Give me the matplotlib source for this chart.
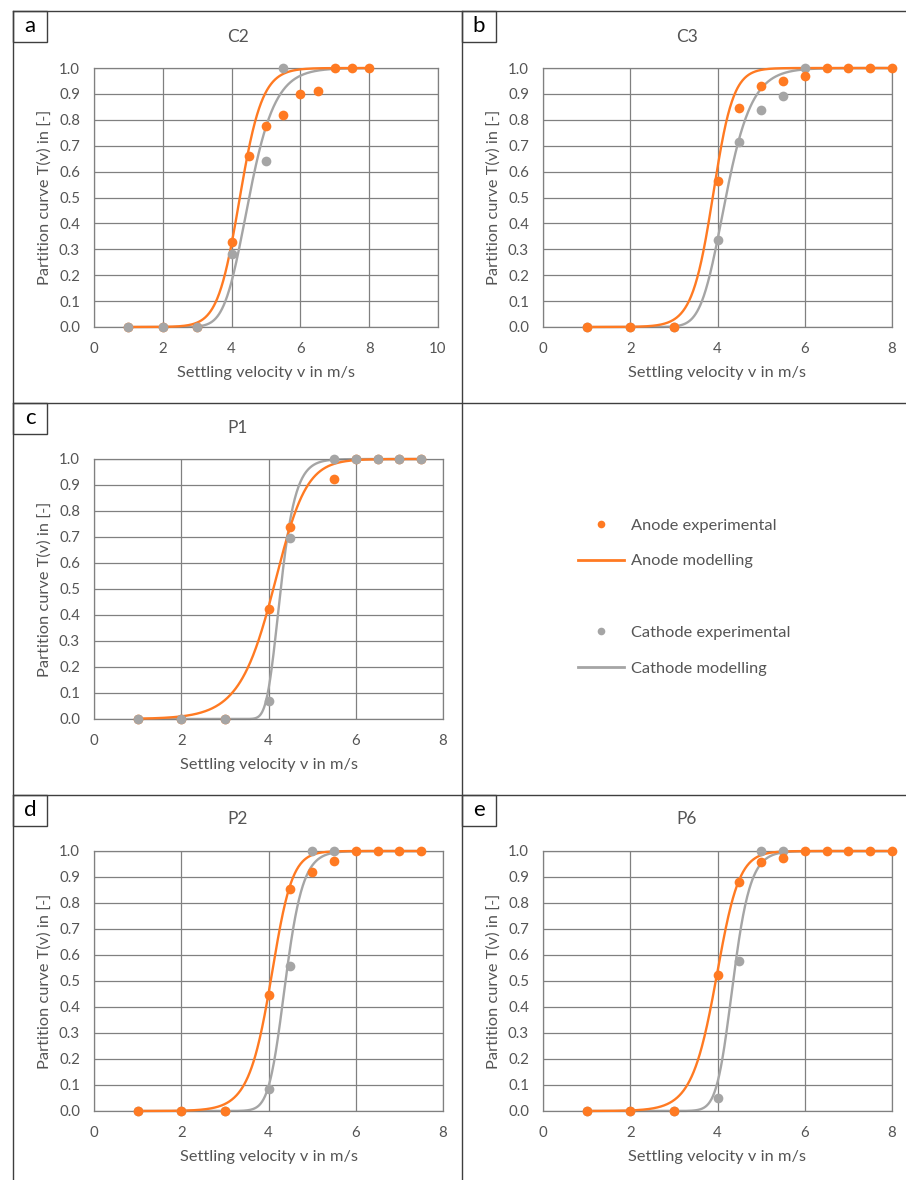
import numpy as np
import matplotlib
matplotlib.use("Agg")
import matplotlib.pyplot as plt
from matplotlib.lines import Line2D
from matplotlib.patches import Rectangle

plt.rcParams['font.family'] = ['Lato', 'DejaVu Sans']

# ---------------- data ----------------
panel_letters = ['a', 'b', 'c', 'd', 'e']
panel_titles = ['C2', 'C3', 'P1', 'P2', 'P6']
x_max = [10, 8, 8, 8, 8]

a_anode_v = [1, 2, 3, 4, 4.5, 5, 5.5, 6, 6.5, 7, 7.5, 8]
a_anode_T = [0, 0, 0, 0.33, 0.66, 0.775, 0.82, 0.90, 0.91, 1.0, 1.0, 1.0]
a_cathode_v = [1, 2, 3, 4, 5, 5.5]
a_cathode_T = [0, 0, 0, 0.28, 0.64, 1.0]

b_anode_v = [1, 2, 3, 4, 4.5, 5, 5.5, 6, 6.5, 7, 7.5, 8]
b_anode_T = [0, 0, 0, 0.565, 0.845, 0.93, 0.95, 0.97, 1.0, 1.0, 1.0, 1.0]
b_cathode_v = [1, 2, 3, 4, 4.5, 5, 5.5, 6]
b_cathode_T = [0, 0, 0, 0.335, 0.713, 0.838, 0.892, 1.0]

c_anode_v = [1, 2, 3, 4, 4.5, 5.5, 6, 6.5, 7, 7.5]
c_anode_T = [0, 0, 0, 0.425, 0.74, 0.925, 1.0, 1.0, 1.0, 1.0]
c_cathode_v = [1, 2, 3, 4, 4.5, 5.5, 6, 6.5, 7, 7.5]
c_cathode_T = [0, 0, 0, 0.068, 0.697, 1.0, 1.0, 1.0, 1.0, 1.0]

d_anode_v = [1, 2, 3, 4, 4.5, 5, 5.5, 6, 6.5, 7, 7.5]
d_anode_T = [0, 0, 0, 0.448, 0.854, 0.918, 0.961, 1.0, 1.0, 1.0, 1.0]
d_cathode_v = [1, 2, 3, 4, 4.5, 5, 5.5]
d_cathode_T = [0, 0, 0, 0.085, 0.557, 1.0, 1.0]

e_anode_v = [1, 2, 3, 4, 4.5, 5, 5.5, 6, 6.5, 7, 7.5, 8]
e_anode_T = [0, 0, 0, 0.524, 0.882, 0.958, 0.973, 1.0, 1.0, 1.0, 1.0, 1.0]
e_cathode_v = [1, 2, 3, 4, 4.5, 5, 5.5]
e_cathode_T = [0, 0, 0, 0.051, 0.578, 1.0, 1.0]

# model-curve parameters (generalised logistic partition curve)
anode_m = [4.22, 3.907, 4.176, 4.093, 3.998]
anode_s = [0.340, 0.2233, 0.3355, 0.218, 0.243]
anode_nu = [0.85, 1.2, 1.5, 1.5, 1.4]
cathode_m = [4.399, 4.102, 4.216, 4.347, 4.317]
cathode_s = [0.458, 0.363, 0.217, 0.2305, 0.228]
cathode_nu = [0.35, 0.35, 0.2, 0.5, 0.5]
curve_v_start = [1, 1, 1, 1, 1]
curve_v_end = [8, 8, 7.5, 7.5, 8]

anode_v = [a_anode_v, b_anode_v, c_anode_v, d_anode_v, e_anode_v]
anode_T = [a_anode_T, b_anode_T, c_anode_T, d_anode_T, e_anode_T]
cathode_v = [a_cathode_v, b_cathode_v, c_cathode_v, d_cathode_v, e_cathode_v]
cathode_T = [a_cathode_T, b_cathode_T, c_cathode_T, d_cathode_T, e_cathode_T]
cathode_on_top = [True, False, True, False, False]


def partition(v, m, s, nu):
    return (1.0 + nu * np.exp(-(v - m) / s)) ** (-1.0 / nu)


# ---------------- style ----------------
ORANGE = '#FF7A22'
GREY = '#A5A5A5'
TXT = '#555555'
GRID = '#808080'
FRAME = '#3f3f3f'

W, H = 906, 1180
fig = plt.figure(figsize=(W / 100, H / 100), dpi=100)

# axes rectangles in pixels: x0, x1, y0(top), y1(bottom)
rects = [(94, 438, 68, 327), (543, 892, 68, 327), (94, 443, 459, 719),
         (94, 443, 851, 1111), (543, 892, 851, 1111)]
title_px = [(238, 37), (687, 37), (238, 428), (238, 819), (687, 819)]
box_px = [(13, 11), (462, 11), (13, 403), (13, 795), (462, 795)]


def fx(x):
    return x / W


def fy(y):
    return 1 - y / H


for i in range(5):
    x0, x1, y0, y1 = rects[i]
    ax = fig.add_axes([fx(x0), fy(y1), (x1 - x0) / W, (y1 - y0) / H])
    ax.set_xlim(0, x_max[i])
    ax.set_ylim(0, 1.0)
    ax.set_xticks(np.arange(0, x_max[i] + 1, 2))
    ax.set_yticks(np.round(np.arange(0, 1.01, 0.1), 1))
    ax.set_yticklabels([f"{t:.1f}" for t in np.arange(0, 1.01, 0.1)])
    ax.grid(True, color=GRID, lw=0.9, zorder=0)
    ax.set_axisbelow(True)
    for sp in ax.spines.values():
        sp.set_color(GRID)
        sp.set_linewidth(0.9)
    ax.tick_params(length=0, labelsize=10.8, colors=TXT, pad=10)
    ax.tick_params(axis='x', pad=10.5)

    vv = np.linspace(curve_v_start[i], curve_v_end[i], 600)
    ax.plot(vv, partition(vv, anode_m[i], anode_s[i], anode_nu[i]),
            color=ORANGE, lw=1.7, zorder=3, clip_on=False)
    ax.plot(vv, partition(vv, cathode_m[i], cathode_s[i], cathode_nu[i]),
            color=GREY, lw=1.7, zorder=2, clip_on=False)
    za, zc = (4, 5) if cathode_on_top[i] else (5, 4)
    ax.plot(anode_v[i], anode_T[i], 'o', color=ORANGE, ms=7, mew=0,
            zorder=za, clip_on=False)
    ax.plot(cathode_v[i], cathode_T[i], 'o', color=GREY, ms=7, mew=0,
            zorder=zc, clip_on=False)

    ax.set_xlabel('Settling velocity v in m/s', fontsize=11.8, color=TXT)
    ax.xaxis.set_label_coords(0.5, -(373 - 327) / (y1 - y0))
    ax.xaxis.label.set_va('center')
    ax.set_ylabel('Partition curve T(v) in [-]', fontsize=11.8, color=TXT)
    ax.yaxis.set_label_coords(-49 / (x1 - x0), 0.5)
    ax.yaxis.label.set_va('center')

    tx, ty = title_px[i]
    fig.text(fx(tx), fy(ty), panel_titles[i], ha='center', va='center',
             fontsize=12.5, color=TXT)

    bx, by = box_px[i]
    fig.add_artist(Rectangle((fx(bx), fy(by + 31)), 34 / W, 31 / H,
                             transform=fig.transFigure, fill=False,
                             edgecolor=FRAME, lw=1.0))
    fig.text(fx(bx + 17), fy(by + 15), panel_letters[i], ha='center',
             va='center', fontsize=16, color='black')

# panel frame lines
frame_lines = [((13, 906), (11, 11)), ((13, 13), (11, 1180)),
               ((462, 462), (11, 1180)), ((13, 906), (403, 403)),
               ((13, 906), (795, 795))]
for (xa, xb), (ya, yb) in frame_lines:
    fig.add_artist(Line2D([fx(xa), fx(xb)], [fy(ya), fy(yb)],
                          transform=fig.transFigure, color=FRAME, lw=1.0))

# legend in the empty panel
handles = [
    Line2D([], [], ls='none', marker='o', color=ORANGE, ms=5.5, mew=0),
    Line2D([], [], color=ORANGE, lw=2),
    Line2D([], [], ls='none', marker=None, color='none'),
    Line2D([], [], ls='none', marker='o', color=GREY, ms=5.5, mew=0),
    Line2D([], [], color=GREY, lw=2),
]
labels = ['Anode experimental', 'Anode modelling', ' ',
          'Cathode experimental', 'Cathode modelling']
leg = fig.legend(handles, labels, loc='upper left',
                 bbox_to_anchor=(fx(570), fy(510)), frameon=False,
                 fontsize=11.8, labelcolor=TXT, handlelength=2.8,
                 handletextpad=0.45, labelspacing=1.3, borderpad=0)

fig.savefig('out.png', dpi=100)
